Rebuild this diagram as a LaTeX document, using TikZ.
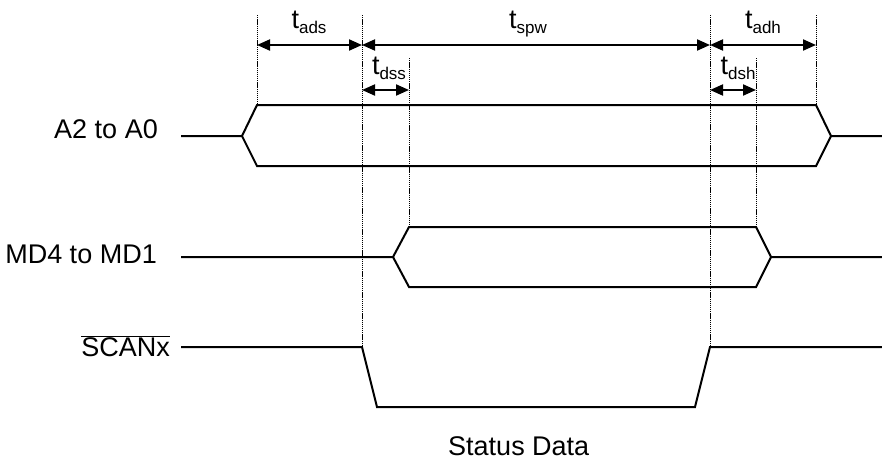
\documentclass[tikz,border=0pt]{standalone}
\usepackage{fontspec}
\setmainfont{Liberation Sans}
\usetikzlibrary{arrows.meta}

\newcommand{\tsub}[1]{t\raisebox{-0.2em}{\fontsize{17}{17}\selectfont #1}}

\begin{document}
\begin{tikzpicture}[x=1pt,y=-1pt,font=\fontsize{27}{30}\selectfont,
  sig/.style={line width=2pt},
  guide/.style={line width=1pt,dash pattern=on 1.3pt off 0.8pt},
  span/.style={line width=2pt,{Triangle[length=13pt,width=11pt]}-{Triangle[length=13pt,width=11pt]}},
  lbl/.style={inner sep=0pt,anchor=base}]
\useasboundingbox (0,0) rectangle (882,463);
% guide lines
\foreach \x/\top/\bot in {257/15/105, 362/15/347, 409/58/228, 710/15/347, 756/58/228, 816/15/105} {
  \draw[guide] (\x,\top) -- (\x,\bot);
}
% timing arrows
\coordinate (a1) at (257,45);
\coordinate (a2) at (362,45);
\coordinate (a3) at (710,45);
\coordinate (a4) at (816,45);
\coordinate (b1) at (362,90);
\coordinate (b2) at (409,90);
\coordinate (b3) at (710,90);
\coordinate (b4) at (756,90);
\draw[span] (a1) -- (a2);
\draw[span] (a2) -- (a3);
\draw[span] (a3) -- (a4);
\draw[span] (b1) -- (b2);
\draw[span] (b3) -- (b4);
\node[lbl] (tads) at (309,28) {\tsub{ads}};
\node[lbl] (tspw) at (528,28) {\tsub{spw}};
\node[lbl] (tadh) at (763,28) {\tsub{adh}};
\node[lbl] (tdss) at (389,74) {\tsub{dss}};
\node[lbl] (tdsh) at (738,74) {\tsub{dsh}};
% signal names
\node[inner sep=0pt,anchor=base east] (adr) at (158,138) {A2 to A0};
\node[inner sep=0pt,anchor=base east] (md) at (157,263) {MD4 to MD1};
\node[inner sep=0pt,anchor=base east] (scan) at (170,356) {$\overline{\mbox{SCANx}}$};
\node[inner sep=0pt,anchor=base west] (stat) at (448,455) {Status Data};
% A2 to A0
\draw[sig] (181,136) -- (242,136) -- (257,105) -- (816,105) -- (831,136) -- (882,136);
\draw[sig] (242,136) -- (257,166) -- (816,166) -- (831,136);
% MD4 to MD1
\draw[sig] (181,257) -- (393,257) -- (409,227) -- (756,227) -- (771,257) -- (882,257);
\draw[sig] (393,257) -- (409,287) -- (756,287) -- (771,257);
% SCANx
\draw[sig] (181,347) -- (362,347) -- (377,407) -- (695,407) -- (710,347) -- (882,347);
\end{tikzpicture}
\end{document}
